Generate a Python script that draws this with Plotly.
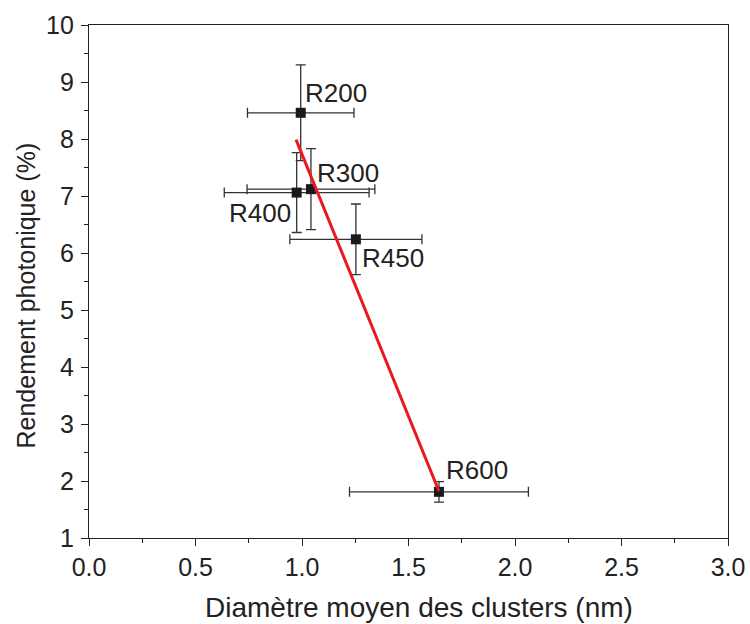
import plotly.graph_objects as go

# Data
labels = ["R200", "R300", "R400", "R450", "R600"]
diam = [0.994, 1.042, 0.975, 1.253, 1.643]
diam_err = [0.25, 0.30, 0.34, 0.31, 0.42]
rend = [8.46, 7.12, 7.06, 6.24, 1.81]
rend_err = [0.84, 0.71, 0.70, 0.62, 0.18]

fit_x = [0.972, 1.643]
fit_y = [7.99, 1.82]

x_title = "Diamètre moyen des clusters (nm)"
y_title = "Rendement photonique (%)"

# label placement (style): xanchor, xshift, yshift
label_pos = {
    "R200": ("left", 2, 20),
    "R300": ("left", 4, 16),
    "R400": ("right", -4, -20),
    "R450": ("left", 4, -19),
    "R600": ("left", 5, 22),
}

FONT = "Liberation Sans, Arial, sans-serif"
TXT = "#222222"
fig = go.Figure()

fig.add_trace(go.Scatter(
    x=diam, y=rend, mode="markers",
    marker=dict(symbol="square", size=10, color="#1a1a1a"),
    error_x=dict(type="data", array=diam_err, color="#333333", thickness=1.3, width=5),
    error_y=dict(type="data", array=rend_err, color="#333333", thickness=1.3, width=5),
    showlegend=False,
))

fig.add_trace(go.Scatter(
    x=fit_x, y=fit_y, mode="lines",
    line=dict(color="#e8191f", width=3),
    showlegend=False,
))

for lab, xv, yv in zip(labels, diam, rend):
    xa, xs, ys = label_pos[lab]
    fig.add_annotation(x=xv, y=yv, text=lab, showarrow=False,
                       xanchor=xa, yanchor="middle", xshift=xs, yshift=ys,
                       font=dict(family=FONT, size=26, color=TXT))

# axis titles
fig.add_annotation(x=0.5, y=0, xref="paper", yref="paper", text=x_title,
                   showarrow=False, xanchor="center", yanchor="middle",
                   xshift=10, yshift=-69,
                   font=dict(family=FONT, size=28, color=TXT))
fig.add_annotation(x=0, y=0.5, xref="paper", yref="paper", text=y_title,
                   showarrow=False, textangle=-90, xanchor="center", yanchor="middle",
                   xshift=-64, yshift=-14,
                   font=dict(family=FONT, size=25, color=TXT))

axis_common = dict(
    showline=True, linecolor=TXT, linewidth=1.3, mirror=True,
    ticks="outside", ticklen=7, tickwidth=1.3, tickcolor=TXT,
    showgrid=False, zeroline=False, automargin=False,
    tickfont=dict(family=FONT, size=25, color=TXT),
)

fig.update_xaxes(
    range=[0, 3], tick0=0, dtick=0.5, tickformat=".1f",
    minor=dict(ticks="outside", ticklen=4, tickwidth=1.3, tickcolor=TXT, dtick=0.25, tick0=0),
    **axis_common,
)
fig.update_yaxes(
    range=[1, 10], tick0=1, dtick=1, ticklabelstandoff=2,
    minor=dict(ticks="outside", ticklen=4, tickwidth=1.3, tickcolor=TXT, dtick=0.5, tick0=1),
    **axis_common,
)

fig.update_layout(
    width=750, height=624,
    margin=dict(l=89, r=22, t=25, b=86),
    plot_bgcolor="white", paper_bgcolor="white",
)

fig.write_html(
    "out.html",
    config={"displayModeBar": False},
    post_script="document.body.style.margin='0';document.documentElement.style.overflow='hidden';",
)
